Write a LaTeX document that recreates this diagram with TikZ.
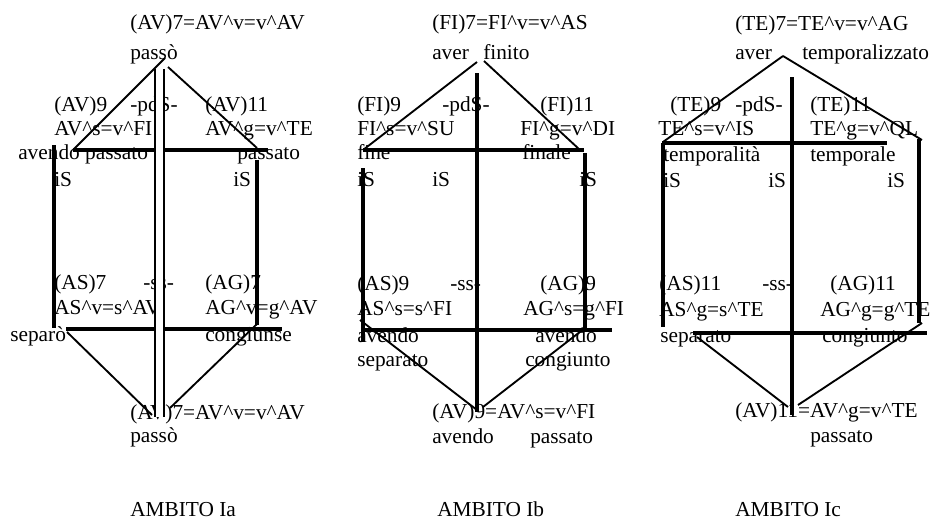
\documentclass[tikz,border=0pt]{standalone}
\usepackage{fontspec}
\setmainfont{Liberation Serif}
\usepackage{tikz}
\usetikzlibrary{positioning}
\newcommand{\crt}{\textasciicircum}
\tikzset{
  txt/.style = {
      anchor=base west,
      inner sep=0pt,
      font=\fontsize{16}{19}\selectfont
  },
  heavy/.style = {
      line width=2.6pt
  },
  slant/.style = {
      line width=1.4pt
  }
}

\begin{document}
\begin{tikzpicture}[x=0.75pt, y=-0.75pt]
    \useasboundingbox (0,0) rectangle (933,521);
    % Nodes -- AMBITO Ia
    \node[txt] (a7)   at (130,30)  {(AV)7=AV\crt v=v\crt AV};
    \node[txt] (a7w)  at (130,59)  {passò};
    \node[txt] (a9)   at (54,111)  {(AV)9};
    \node[txt] (apds) at (130,111) {-pdS-};
    \node[txt] (a11)  at (205,111) {(AV)11};
    \node[txt] (a9e)  at (54,135)  {AV\crt s=v\crt FI};
    \node[txt] (a11e) at (205,135) {AV\crt g=v\crt TE};
    \node[txt] (a9w)  at (18,159)  {avendo passato};
    \node[txt] (a11w) at (237,159) {passato};
    \node[txt] (ais1) at (54,186)  {iS};
    \node[txt] (ais2) at (233,186) {iS};
    \node[txt] (aas)  at (54,289)  {(AS)7};
    \node[txt] (ass)  at (143,289) {-ss-};
    \node[txt] (aag)  at (205,289) {(AG)7};
    \node[txt] (aase) at (54,314)  {AS\crt v=s\crt AV};
    \node[txt] (aage) at (205,314) {AG\crt v=g\crt AV};
    \node[txt] (aasw) at (10,341)  {separò};
    \node[txt] (aagw) at (205,341) {congiunse};
    \node[txt] (ab7)  at (130,419) {(AV)7=AV\crt v=v\crt AV};
    \node[txt] (ab7w) at (130,442) {passò};
    \node[txt] (atit) at (130,516) {AMBITO Ia};
    % Nodes -- AMBITO Ib
    \node[txt] (b7)   at (432,30)  {(FI)7=FI\crt v=v\crt AS};
    \node[txt] (b7w)  at (432,59)  {aver};
    \node[txt] (b7x)  at (483,59)  {finito};
    \node[txt] (b9)   at (357,111) {(FI)9};
    \node[txt] (bpds) at (442,111) {-pdS-};
    \node[txt] (b11)  at (540,111) {(FI)11};
    \node[txt] (b9e)  at (357,135) {FI\crt s=v\crt SU};
    \node[txt] (b11e) at (520,135) {FI\crt g=v\crt DI};
    \node[txt] (b9w)  at (357,159) {fine};
    \node[txt] (b11w) at (522,159) {finale};
    \node[txt] (bis1) at (357,186) {iS};
    \node[txt] (bis2) at (432,186) {iS};
    \node[txt] (bis3) at (579,186) {iS};
    \node[txt] (bas)  at (357,290) {(AS)9};
    \node[txt] (bss)  at (450,290) {-ss-};
    \node[txt] (bag)  at (540,290) {(AG)9};
    \node[txt] (base) at (357,315) {AS\crt s=s\crt FI};
    \node[txt] (bage) at (523,315) {AG\crt s=g\crt FI};
    \node[txt] (basw) at (357,342) {avendo};
    \node[txt] (basx) at (357,366) {separato};
    \node[txt] (bagw) at (535,342) {avendo};
    \node[txt] (bagx) at (525,366) {congiunto};
    \node[txt] (bb9)  at (432,418) {(AV)9=AV\crt s=v\crt FI};
    \node[txt] (bb9w) at (432,443) {avendo};
    \node[txt] (bb9x) at (530,443) {passato};
    \node[txt] (btit) at (437,516) {AMBITO Ib};
    % Nodes -- AMBITO Ic
    \node[txt] (c7)   at (735,31)  {(TE)7=TE\crt v=v\crt AG};
    \node[txt] (c7w)  at (735,60)  {aver};
    \node[txt] (c7x)  at (802,60)  {temporalizzato};
    \node[txt] (c9)   at (670,111) {(TE)9};
    \node[txt] (cpds) at (735,111) {-pdS-};
    \node[txt] (c11)  at (810,111) {(TE)11};
    \node[txt] (c9e)  at (658,135) {TE\crt s=v\crt IS};
    \node[txt] (c11e) at (810,135) {TE\crt g=v\crt QL};
    \node[txt] (c9w)  at (663,161) {temporalità};
    \node[txt] (c11w) at (810,161) {temporale};
    \node[txt] (cis1) at (663,187) {iS};
    \node[txt] (cis2) at (768,187) {iS};
    \node[txt] (cis3) at (887,187) {iS};
    \node[txt] (cas)  at (659,290) {(AS)11};
    \node[txt] (css)  at (762,290) {-ss-};
    \node[txt] (cag)  at (830,290) {(AG)11};
    \node[txt] (case) at (659,316) {AS\crt g=s\crt TE};
    \node[txt] (cage) at (820,316) {AG\crt g=g\crt TE};
    \node[txt] (casw) at (660,342) {separato};
    \node[txt] (cagw) at (822,342) {congiunto};
    \node[txt] (cb11) at (735,417) {(AV)11=AV\crt g=v\crt TE};
    \node[txt] (cb11w) at (810,442) {passato};
    \node[txt] (ctit) at (735,516) {AMBITO Ic};
    % Corners
    \coordinate (ap1) at (165,58);  \coordinate (ap2) at (168,67);
    \coordinate (ahl) at (73,150);  \coordinate (ahr) at (268,150);
    \coordinate (arv) at (257,148);
    \coordinate (alt) at (54,145);  \coordinate (alb) at (54,328);
    \coordinate (art) at (257,160); \coordinate (arb) at (257,325);
    \coordinate (abl) at (66,329);  \coordinate (abr) at (282,329);
    \coordinate (adl) at (67,332);  \coordinate (adr) at (258,323);
    \coordinate (aq1) at (152,415); \coordinate (aq2) at (170,408);
    \coordinate (bp1) at (477,62);  \coordinate (bp2) at (484,61);
    \coordinate (bhl) at (363,150); \coordinate (bhr) at (584,150);
    \coordinate (bdr) at (580,150);
    \coordinate (bct) at (477,73);  \coordinate (bcb) at (477,412);
    \coordinate (blt) at (363,168); \coordinate (blb) at (363,342);
    \coordinate (brt) at (585,153); \coordinate (brb) at (585,328);
    \coordinate (bbl) at (363,330); \coordinate (bbr) at (612,330);
    \coordinate (bdl) at (360,320);
    \coordinate (bq1) at (477,410); \coordinate (bq2) at (483,407);
    \coordinate (cp)  at (783,56);
    \coordinate (chl) at (662,143); \coordinate (chr) at (887,143);
    \coordinate (cdl) at (663,142); \coordinate (cdr) at (922,140);
    \coordinate (cct) at (792,77);  \coordinate (ccb) at (792,415);
    \coordinate (clt) at (663,143); \coordinate (clb) at (663,327);
    \coordinate (crt) at (919,139); \coordinate (crb) at (919,323);
    \coordinate (cbl) at (693,333); \coordinate (cbr) at (927,333);
    \coordinate (cel) at (697,337); \coordinate (cer) at (922,323);
    \coordinate (cq1) at (788,407); \coordinate (cq2) at (798,405);
    % Edges
    \path[draw, slant]
    (ap1) -- (ahl) (ap2) -- (arv)
    (adl) -- (aq1) (adr) -- (aq2)
    (bp1) -- (bhl) (bp2) -- (bdr)
    (bdl) -- (bq1) (brb) -- (bq2)
    (cp) -- (cdl) (cp) -- (cdr)
    (cel) -- (cq1) (cer) -- (cq2);
    \path[draw, heavy]
    (ahl) -- (ahr) (alt) -- (alb) (art) -- (arb) (abl) -- (abr)
    (bhl) -- (bhr) (bct) -- (bcb) (blt) -- (blb) (brt) -- (brb) (bbl) -- (bbr)
    (chl) -- (chr) (cct) -- (ccb) (clt) -- (clb) (crt) -- (crb) (cbl) -- (cbr);
    % double bar of Ia
    \coordinate (dl1) at (155,69);  \coordinate (dl2) at (155,417);
    \coordinate (dr1) at (164,69);  \coordinate (dr2) at (164,417);
    \fill[white] (dl1) rectangle (dr2);
    \path[draw, slant] (dl1) -- (dl2) (dr1) -- (dr2);
\end{tikzpicture}
\end{document}
